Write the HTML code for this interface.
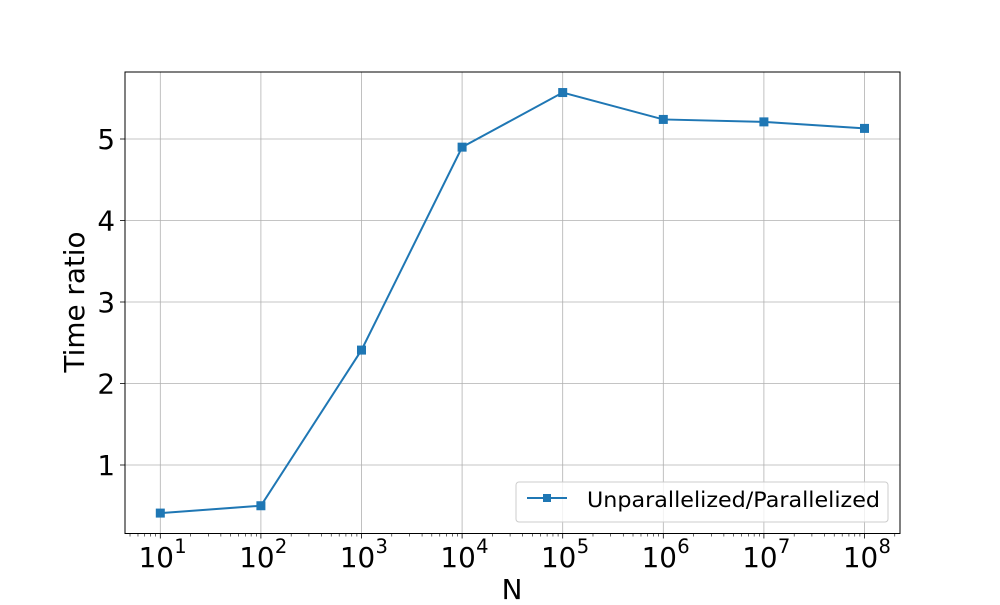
<!DOCTYPE html>
<html><head><meta charset="utf-8"><style>
body{margin:0;background:#fff}
svg text{font-family:"DejaVu Sans","Liberation Sans",sans-serif;fill:#000}
</style></head><body>
<svg id="chart" width="1000" height="600" xmlns="http://www.w3.org/2000/svg">
<g id="grid"></g>
<g id="axes"></g>
<g id="series"></g>
<rect x="125" y="72" width="775" height="461.5" fill="none" stroke="#000" stroke-width="1"/>
<text x="512" y="599" font-size="27.8" text-anchor="middle">N</text>
<text transform="translate(84,302) rotate(-90)" font-size="27.8" text-anchor="middle">Time ratio</text>
<g>
<rect x="516" y="482" width="372" height="40" rx="3" fill="#fff" fill-opacity="0.8" stroke="#ccc"/>
<line x1="527" y1="498" x2="567" y2="498" stroke="#1f77b4" stroke-width="2"/>
<rect x="543" y="494" width="8" height="8" fill="#1f77b4"/>
<text x="587" y="507" font-size="21" textLength="293" lengthAdjust="spacingAndGlyphs">Unparallelized/Parallelized</text>
</g>
</svg>
<script>
const exponents=[1,2,3,4,5,6,7,8];
const ratios=[0.41,0.50,2.41,4.90,5.57,5.24,5.21,5.13];
const yTicks=[1,2,3,4,5];
const NS="http://www.w3.org/2000/svg";
const L=125,R=900,T=72,B=533.5;
function xs(e){return 160.3+(e-1)*100.6;}
function ys(v){return 546.5-v*81.5;}
function mk(t,a,p){const el=document.createElementNS(NS,t);for(const k in a)el.setAttribute(k,a[k]);p.appendChild(el);return el;}
const grid=document.getElementById('grid'),axes=document.getElementById('axes'),ser=document.getElementById('series');
exponents.forEach(e=>{
 const x=xs(e);
 const g=mk('line',{x1:x,x2:x,y1:T,y2:B,stroke:'#b0b0b0','stroke-width':0.8},grid);
 
 
 mk('line',{x1:x,x2:x,y1:B,y2:B+5,stroke:'#000','stroke-width':0.8},axes);
 const t=mk('text',{x:x-4,y:567,'font-size':27.8,'text-anchor':'middle'},axes);
 
 
 t.textContent='10';
 const s=mk('text',{x:x+14,y:553,'font-size':19.5},axes);
 s.textContent=String(e);
});
for(let e=0;e<=8;e++){for(let m=2;m<=9;m++){const x=xs(e+Math.log10(m));if(x>L&&x<R)mk('line',{x1:x,x2:x,y1:B,y2:B+3,stroke:'#000','stroke-width':0.6},axes);}}
yTicks.forEach(v=>{
 const y=ys(v);
 const g=mk('line',{x1:L,x2:R,y1:y,y2:y,stroke:'#b0b0b0','stroke-width':0.8},grid);
 
 
 mk('line',{x1:L-5,x2:L,y1:y,y2:y,stroke:'#000','stroke-width':0.8},axes);
 const t=mk('text',{x:L-10,y:y+10,'font-size':27.8,'text-anchor':'end'},axes);
 
 
 t.textContent=String(v);
});
const pts=exponents.map((e,i)=>xs(e)+','+ys(ratios[i])).join(' ');
const pl=mk('polyline',{points:pts,fill:'none',stroke:'#1f77b4','stroke-width':2},ser);


exponents.forEach((e,i)=>{
 const r=mk('rect',{x:xs(e)-4.5,y:ys(ratios[i])-4.5,width:9,height:9,fill:'#1f77b4'},ser);
 
 
});
</script>
</body></html>
